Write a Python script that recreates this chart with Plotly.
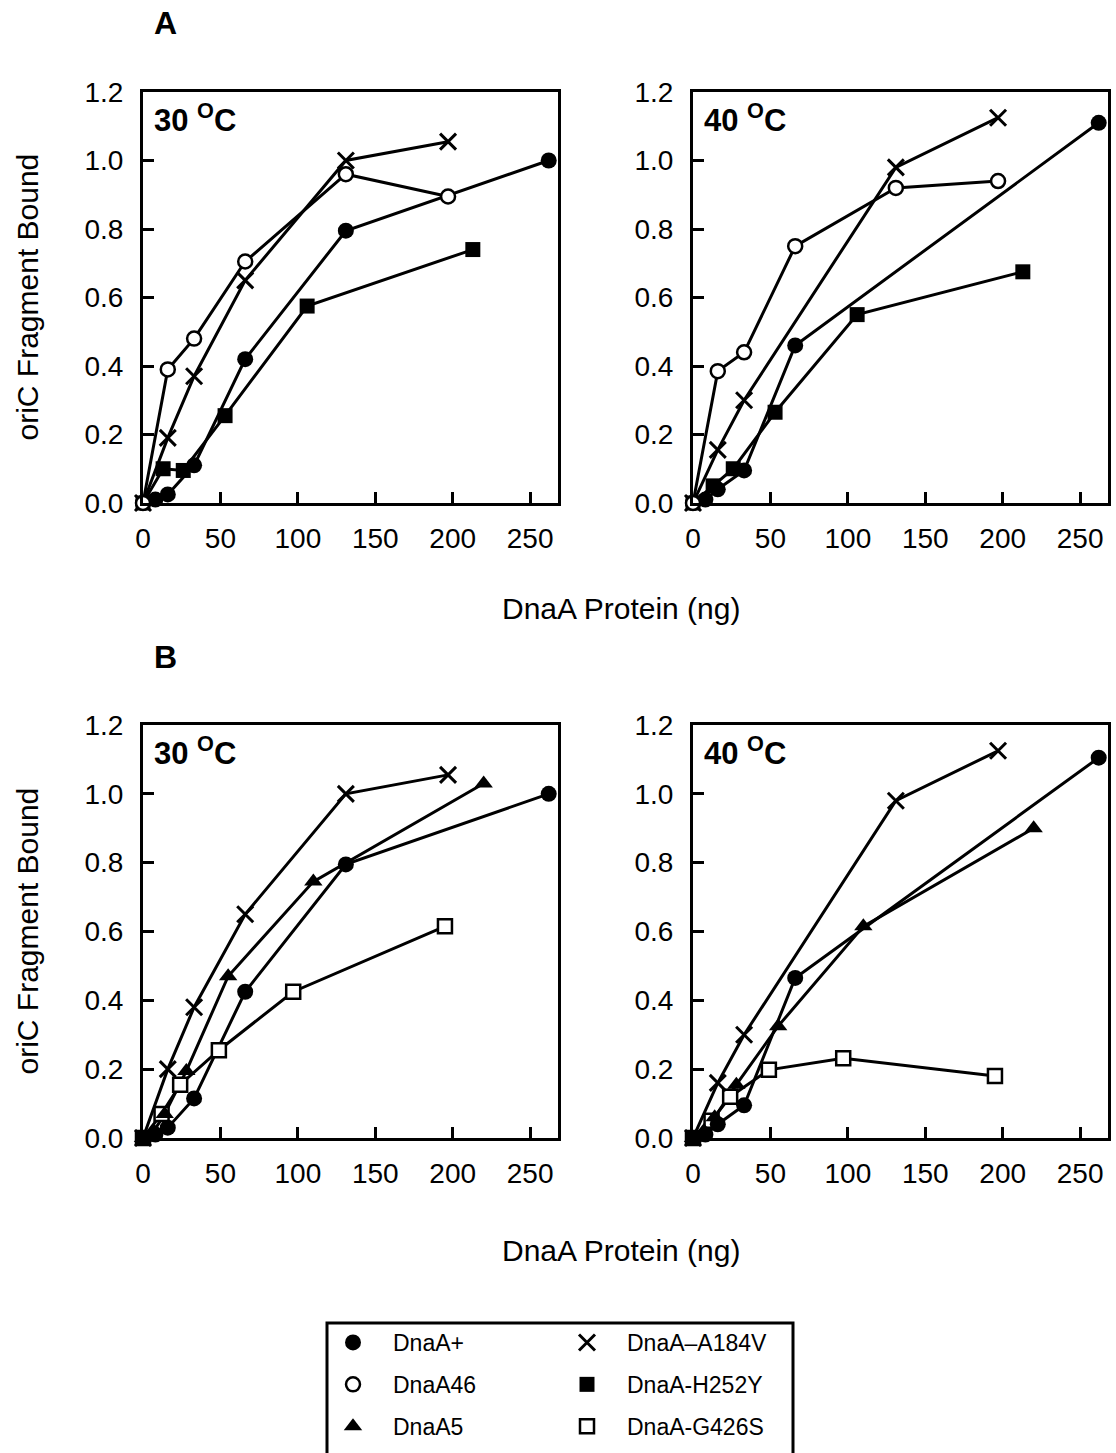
import plotly.graph_objects as go

W, H = 1116, 1453

# ---------------- data ----------------
# Panel A, 30 C
A30_wt_x = [0, 8, 16, 33, 66, 131, 262]
A30_wt_y = [0.0, 0.01, 0.025, 0.11, 0.42, 0.795, 1.0]
A30_46_x = [0, 16, 33, 66, 131, 197]
A30_46_y = [0.0, 0.39, 0.48, 0.705, 0.96, 0.895]
A30_184_x = [0, 16, 33, 66, 131, 197]
A30_184_y = [0.0, 0.19, 0.37, 0.65, 1.0, 1.055]
A30_252_x = [0, 13, 26, 53, 106, 213]
A30_252_y = [0.0, 0.10, 0.095, 0.255, 0.575, 0.74]

# Panel A, 40 C
A40_wt_x = [0, 8, 16, 33, 66, 262]
A40_wt_y = [0.0, 0.01, 0.04, 0.095, 0.46, 1.11]
A40_46_x = [0, 16, 33, 66, 131, 197]
A40_46_y = [0.0, 0.385, 0.44, 0.75, 0.92, 0.94]
A40_184_x = [0, 16, 33, 131, 197]
A40_184_y = [0.0, 0.155, 0.30, 0.98, 1.125]
A40_252_x = [0, 13, 26, 53, 106, 213]
A40_252_y = [0.0, 0.05, 0.10, 0.265, 0.55, 0.675]

# Panel B, 30 C
B30_wt_x = [0, 8, 16, 33, 66, 131, 262]
B30_wt_y = [0.0, 0.01, 0.03, 0.115, 0.425, 0.795, 1.0]
B30_5_x = [0, 7, 14, 28, 55, 110, 220]
B30_5_y = [0.0, 0.02, 0.07, 0.195, 0.47, 0.745, 1.03]
B30_184_x = [0, 16, 33, 66, 131, 197]
B30_184_y = [0.0, 0.20, 0.38, 0.65, 1.0, 1.055]
B30_426_x = [0, 12, 24, 49, 97, 195]
B30_426_y = [0.0, 0.07, 0.155, 0.255, 0.425, 0.615]

# Panel B, 40 C
B40_wt_x = [0, 8, 16, 33, 66, 262]
B40_wt_y = [0.0, 0.01, 0.04, 0.095, 0.465, 1.105]
B40_5_x = [0, 7, 14, 28, 55, 110, 220]
B40_5_y = [0.0, 0.02, 0.06, 0.155, 0.325, 0.615, 0.90]
B40_184_x = [0, 16, 33, 131, 197]
B40_184_y = [0.0, 0.16, 0.30, 0.98, 1.125]
B40_426_x = [0, 12, 24, 49, 97, 195]
B40_426_y = [0.0, 0.05, 0.12, 0.198, 0.232, 0.18]

x_ticks = [0, 50, 100, 150, 200, 250]
y_ticks = [0.0, 0.2, 0.4, 0.6, 0.8, 1.0, 1.2]
y_tick_text = ["0.0", "0.2", "0.4", "0.6", "0.8", "1.0", "1.2"]
panel_titles = ["30 <sup>O</sup>C", "40 <sup>O</sup>C", "30 <sup>O</sup>C", "40 <sup>O</sup>C"]
section_labels = ["A", "B"]
x_title = "DnaA Protein (ng)"
y_title = "oriC Fragment Bound"

series_names = {
    "wt": "DnaA+", "46": "DnaA46", "5": "DnaA5",
    "184": "DnaA\u2013A184V", "252": "DnaA-H252Y", "426": "DnaA-G426S",
}

# ---------------- styles ----------------
FONT = "Liberation Sans, Arial, Helvetica, sans-serif"
marker_style = {
    "wt": dict(symbol="circle", size=16, color="black", line=dict(width=0)),
    "46": dict(symbol="circle", size=14, color="white", line=dict(color="black", width=2.5)),
    "5": dict(symbol="triangle-up", size=16, color="black", line=dict(width=0)),
    "184": dict(symbol="x-thin", size=16, color="black", line=dict(color="black", width=3)),
    "252": dict(symbol="square", size=15, color="black", line=dict(width=0)),
    "426": dict(symbol="square", size=14, color="white", line=dict(color="black", width=2.5)),
}
legend_of = {"wt": "legend", "46": "legend", "5": "legend",
             "184": "legend2", "252": "legend2", "426": "legend2"}
legend_rank = {"wt": 1, "46": 2, "5": 3, "184": 1, "252": 2, "426": 3}

panels = [
    ("", (143, 558), (92, 503), [("252", A30_252_x, A30_252_y), ("wt", A30_wt_x, A30_wt_y),
                                 ("184", A30_184_x, A30_184_y), ("46", A30_46_x, A30_46_y)]),
    ("2", (693, 1108), (92, 503), [("252", A40_252_x, A40_252_y), ("wt", A40_wt_x, A40_wt_y),
                                   ("184", A40_184_x, A40_184_y), ("46", A40_46_x, A40_46_y)]),
    ("3", (143, 558), (725, 1138), [("426", B30_426_x, B30_426_y), ("wt", B30_wt_x, B30_wt_y),
                                    ("5", B30_5_x, B30_5_y), ("184", B30_184_x, B30_184_y)]),
    ("4", (693, 1108), (725, 1138), [("426", B40_426_x, B40_426_y), ("wt", B40_wt_x, B40_wt_y),
                                     ("5", B40_5_x, B40_5_y), ("184", B40_184_x, B40_184_y)]),
]

fig = go.Figure()
shown = set()
layout_axes = {}
for suffix, (x0, x1), (ytop, ybot), series in panels:
    xa = "x" + suffix
    ya = "y" + suffix
    for key, xs, ys in series:
        fig.add_trace(go.Scatter(x=xs, y=ys, mode="lines", xaxis=xa, yaxis=ya,
                                 line=dict(color="black", width=3), showlegend=False,
                                 hoverinfo="skip", cliponaxis=False))
    for key, xs, ys in series:
        show = key not in shown
        shown.add(key)
        fig.add_trace(go.Scatter(x=xs, y=ys, mode="markers", xaxis=xa, yaxis=ya,
                                 marker=marker_style[key], name=series_names[key],
                                 legend=legend_of[key], legendgroup=key,
                                 legendrank=legend_rank[key],
                                 showlegend=show, cliponaxis=False))
    xname = "xaxis" + suffix
    yname = "yaxis" + suffix
    layout_axes[xname] = dict(
        domain=[x0 / W, x1 / W], anchor=ya, range=[0, 268], automargin=False,
        tickvals=x_ticks, ticks="inside", ticklen=11, tickwidth=2.5, tickcolor="black",
        showline=True, linewidth=3, linecolor="black", mirror=True,
        showgrid=False, zeroline=False, ticklabelstandoff=8,
        tickfont=dict(family=FONT, size=28, color="black"),
    )
    layout_axes[yname] = dict(
        domain=[1 - ybot / H, 1 - ytop / H], anchor=xa, range=[0, 1.2], automargin=False,
        tickvals=y_ticks, ticktext=y_tick_text, ticks="inside", ticklen=11, tickwidth=2.5,
        tickcolor="black", showline=True, linewidth=3, linecolor="black", mirror=True,
        showgrid=False, zeroline=False, ticklabelstandoff=11,
        tickfont=dict(family=FONT, size=28, color="black"),
    )

fig.update_layout(**layout_axes)

annotations = []
for lab, ypx in zip(section_labels, [23, 657]):
    annotations.append(dict(text="<b>%s</b>" % lab, x=165 / W, y=1 - ypx / H, xref="paper", yref="paper",
                            showarrow=False, xanchor="center", yanchor="middle",
                            font=dict(family=FONT, size=32, color="black")))
for t, (suffix, (x0, x1), (ytop, ybot), _) in zip(panel_titles, panels):
    annotations.append(dict(text="<b>%s</b>" % t, x=(x0 + 9) / W, y=1 - (ytop + 48) / H,
                            xref="paper", yref="paper", showarrow=False,
                            xanchor="left", yanchor="bottom",
                            font=dict(family=FONT, size=31, color="black")))
for ytop, ybot, xt_y in [(92, 503, 608), (725, 1138, 1250)]:
    annotations.append(dict(text=y_title, x=27 / W, y=1 - ((ytop + ybot) / 2) / H, xref="paper",
                            yref="paper", showarrow=False, textangle=-90, xanchor="center",
                            yanchor="middle", font=dict(family=FONT, size=30, color="black")))
    annotations.append(dict(text=x_title, x=621 / W, y=1 - xt_y / H, xref="paper", yref="paper",
                            showarrow=False, xanchor="center", yanchor="middle",
                            font=dict(family=FONT, size=30, color="black")))

legend_common = dict(orientation="v", bgcolor="rgba(0,0,0,0)", borderwidth=0,
                     font=dict(family=FONT, size=23, color="black"),
                     itemwidth=70, tracegroupgap=9, traceorder="grouped",
                     xanchor="left", yanchor="top", itemclick=False, itemdoubleclick=False)

fig.update_layout(
    width=W, height=H,
    margin=dict(l=0, r=0, t=0, b=0, pad=0, autoexpand=False),
    paper_bgcolor="white", plot_bgcolor="white",
    annotations=annotations,
    legend=dict(x=313 / W, y=1 - 1321 / H, **legend_common),
    legend2=dict(x=547 / W, y=1 - 1321 / H, **legend_common),
    shapes=[dict(type="rect", xref="paper", yref="paper", x0=327 / W, x1=793 / W,
                 y0=1 - 1470 / H, y1=1 - 1323 / H, line=dict(color="black", width=3),
                 fillcolor="rgba(0,0,0,0)", layer="below")],
    showlegend=True,
)

fig.write_html("out.html", config={"displayModeBar": False},
               post_script="document.body.style.margin='0';")
